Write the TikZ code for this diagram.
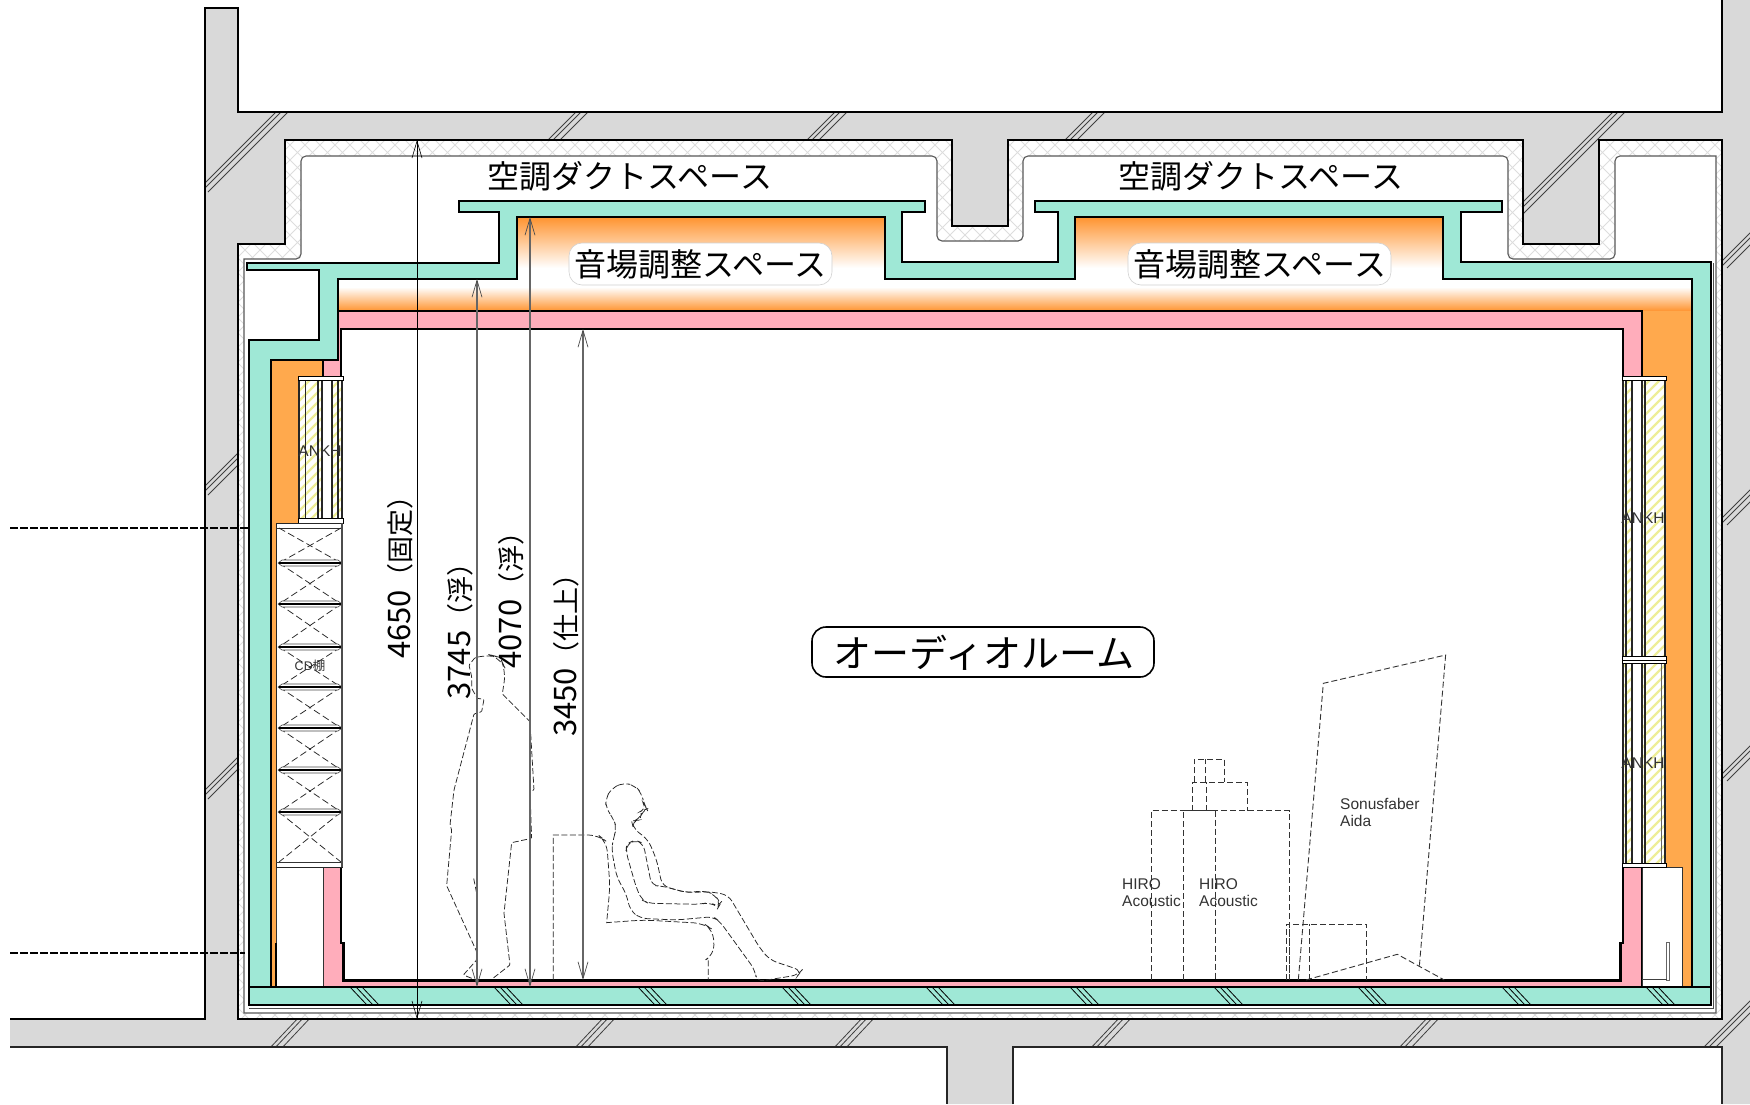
\documentclass[tikz,border=0pt]{standalone}
\usepackage{fontspec}
\usetikzlibrary{arrows.meta}
\setmainfont{Noto Sans CJK JP}
\newfontfamily\latinf{Liberation Sans}
\definecolor{conc}{HTML}{D9D9D9}
\definecolor{tealw}{HTML}{9FE8D6}
\definecolor{pinkw}{HTML}{FFADBB}
\definecolor{orw}{HTML}{FFA94D}
\definecolor{ore}{HTML}{FF9430}
\definecolor{yelw}{HTML}{EEEE98}
\definecolor{hatchg}{HTML}{DDDDDD}
\definecolor{dimg}{HTML}{666666}
\newcommand{\concbreak}[4]{\foreach \d in {0,5,12}{\draw[breakline] (#1+\d,#2) -- (#3+\d,#4);}}
\newcommand{\floorbreak}[1]{\foreach \d in {0,6,12}{\draw[breakline,black] (#1+\d,987) -- (#1+\d+17,1005);}}
\newcommand{\shelfbar}[1]{\draw[black!70,line width=.6pt,fill=white] (278,#1) -- (282,#1-3) -- (338,#1-3) -- (342,#1) -- (338,#1+3) -- (282,#1+3) -- cycle;
  \draw[black,line width=1.6pt] (279,#1) -- (341,#1);}
\newcommand{\shelfcross}[2]{\draw[thindash] (279,#1) -- (341,#2); \draw[thindash] (341,#1) -- (279,#2);}
\tikzset{
  breakline/.style={black!75,line width=.8pt},
  wall/.style={draw=black,line width=2pt,line join=miter},
  thindash/.style={draw=black!85,line width=.75pt,dash pattern=on 7pt off 3.5pt},
  figline/.style={draw=black!85,line width=.75pt,dash pattern=on 6pt off 2.5pt,rounded corners=4pt},
  equip/.style={draw=black!80,line width=.9pt,dash pattern=on 6pt off 3pt},
  blackdim/.style={draw=black,line width=.9pt,{Straight Barb[length=17pt,width=10pt,line width=.6pt]}-{Straight Barb[length=17pt,width=10pt,line width=.6pt]}},
  graydim/.style={draw=dimg,line width=1.2pt,{Straight Barb[length=17pt,width=10pt,line width=.7pt,black!70]}-{Straight Barb[length=17pt,width=10pt,line width=.7pt,black!70]}},
  dimtxt/.style={rotate=90,inner sep=0pt,text=black},
  bigtxt/.style={inner sep=0pt,text=black,font=\fontsize{32}{32}\selectfont},
  pill/.style={fill=white,draw=black!18,line width=.6pt,rounded corners=13pt},
  smalltxt/.style={inner sep=0pt,text=black!80,align=left,font=\latinf\fontsize{15.5}{17}\selectfont},
  ankhtxt/.style={inner sep=0pt,text=black!80,font=\latinf\fontsize{15.5}{17}\selectfont},
}
\newcommand{\dimlabel}[2]{{\fontsize{31}{31}\selectfont #1}{\fontsize{27}{27}\selectfont #2}}
\begin{document}
\begin{tikzpicture}[x=1pt,y=-1pt]
\useasboundingbox (0,0) rectangle (1750,1104);
\fill[white] (0,0) rectangle (1750,1104);
% concrete
\path[fill=conc] (205,8) -- (238,8) -- (238,112) -- (1722,112) -- (1722,0) -- (1750,0) -- (1750,1104) -- (1722,1104) -- (1722,1047) -- (1013,1047) -- (1013,1104) -- (947,1104) -- (947,1047) -- (10,1047) -- (10,1019) -- (205,1019) -- cycle;
\begin{scope}
\clip (205,8) -- (238,8) -- (238,112) -- (1722,112) -- (1722,0) -- (1750,0) -- (1750,1104) -- (1722,1104) -- (1722,1047) -- (1013,1047) -- (1013,1104) -- (947,1104) -- (947,1047) -- (10,1047) -- (10,1019) -- (205,1019) -- cycle;
\concbreak{196}{192}{284}{104}
\concbreak{196}{495}{244}{447}
\concbreak{196}{799}{244}{751}
\concbreak{540}{148}{584}{104}
\concbreak{799}{148}{843}{104}
\concbreak{1057}{148}{1101}{104}
\concbreak{1510}{215}{1621}{104}
\concbreak{1715}{525}{1755}{485}
\concbreak{1715}{781}{1755}{741}
\concbreak{1715}{268}{1755}{228}
\foreach \x in {271,576,835,1092,1400}{\concbreak{\x-3}{1050}{\x+29}{1016}}
\concbreak{1700}{1051}{1760}{991}
\end{scope}
\draw[black,line width=2pt] (10,1019) -- (205,1019) -- (205,8) -- (238,8) -- (238,112) -- (1722,112) -- (1722,0);
\draw[black!85,line width=1.6pt] (10,1047) -- (947,1047) -- (947,1104);
\draw[black!85,line width=1.6pt] (1013,1104) -- (1013,1047) -- (1722,1047) -- (1722,1104);
% cavity with insulation hatch
\fill[white] (238,244) -- (285,244) -- (285,140) -- (952,140) -- (952,226) -- (1008,226) -- (1008,140) -- (1523,140) -- (1523,244) -- (1599,244) -- (1599,140) -- (1722,140) -- (1722,1019) -- (238,1019) -- cycle;
\begin{scope}
\clip (238,244) -- (285,244) -- (285,140) -- (952,140) -- (952,226) -- (1008,226) -- (1008,140) -- (1523,140) -- (1523,244) -- (1599,244) -- (1599,140) -- (1722,140) -- (1722,1019) -- (238,1019) -- cycle;
\foreach \c in {240,255,...,2900}{\draw[hatchg,line width=.8pt] (\c,0) -- (\c-1104,1104);}
\foreach \c in {-860,-845,...,1720}{\draw[hatchg,line width=.8pt] (\c,0) -- (\c+1104,1104);}
\end{scope}
\draw[black,line width=2pt] (238,244) -- (285,244) -- (285,140) -- (952,140) -- (952,226) -- (1008,226) -- (1008,140) -- (1523,140) -- (1523,244) -- (1599,244) -- (1599,140) -- (1722,140) -- (1722,1019) -- (238,1019) -- cycle;
\draw[fill=white,draw=black!65,line width=1.1pt,sharp corners] (244,259) -- (244,1013) -- (1716,1013) -- (1716,156) [rounded corners=5pt] -- (1615,156) -- (1615,259) -- (1508,259) -- (1508,156) -- (1023,156) -- (1023,241) -- (937,241) -- (937,156) -- (301,156) -- (301,259) [sharp corners] -- (244,259) -- cycle;
% extra thin line
\draw[black!70,line width=.9pt] (249,1008) -- (1713,1008) -- (1713,263);
% teal shell
\path[wall,fill=tealw] (247,263) -- (499,263) -- (499,212) -- (459,212) -- (459,201) -- (925,201) -- (925,212) -- (902,212) -- (902,262) -- (1058,262) -- (1058,212) -- (1035,212) -- (1035,201) -- (1502,201) -- (1502,212) -- (1461,212) -- (1461,262) -- (1711,262) -- (1711,1005) -- (249,1005) -- (249,340) -- (319,340) -- (319,270) -- (247,270) -- cycle;
\foreach \x in {350,494,638,782,926,1070,1214,1358,1502,1646}{\floorbreak{\x}}
% interior
\path[fill=white] (338,279) -- (517,279) -- (517,217) -- (885,217) -- (885,279) -- (1075,279) -- (1075,217) -- (1443,217) -- (1443,279) -- (1692,279) -- (1692,987) -- (271,987) -- (271,360) -- (338,360) -- cycle;
\shade[top color=ore,bottom color=white] (517,217) rectangle (885,268);
\shade[top color=ore,bottom color=white] (1075,217) rectangle (1443,268);
\shade[top color=white,bottom color=ore] (338,287) rectangle (1692,311);
\fill[orw] (1642,311) rectangle (1692,987);
\fill[orw] (271,360) rectangle (323,987);
\draw[black,line width=2pt] (338,360) -- (338,279) -- (517,279) -- (517,217) -- (885,217) -- (885,279) -- (1075,279) -- (1075,217) -- (1443,217) -- (1443,279) -- (1692,279) -- (1692,987) -- (271,987) -- (271,360) -- cycle;
% pink finish
\path[fill=pinkw,draw=black,line width=1.4pt] (338,311) -- (1642,311) -- (1642,987) -- (323,987) -- (323,360) -- (338,360) -- cycle;
% low-left and low-right voids
\path[fill=white,draw=black!80,line width=1pt] (276,867) rectangle (323,987);
\path[fill=white,draw=black!80,line width=1pt] (1642,867) rectangle (1682,987);
\draw[black,line width=2pt] (276,943) -- (276,987);
\draw[black!60,line width=.8pt,fill=white] (1666.5,942) rectangle (1669.5,980);
\draw[black!75,line width=1pt] (1642,979) -- (1667,979);
\draw[black,line width=2pt] (249,987) -- (1711,987);
% room
\path[fill=white,draw=black,line width=2.4pt] (341,329) -- (1623,329) -- (1623,943) -- (1620.5,943) -- (1620.5,980.5) -- (343.5,980.5) -- (343.5,943) -- (341,943) -- cycle;
% left ANKH
\begin{scope}
\clip (299,380) rectangle (342,518);
\fill[white] (299,380) rectangle (342,518);
\foreach \c in {670,680,...,890}{\draw[yelw,line width=2.4pt] (290,\c-290) -- (350,\c-350);}
\end{scope}
\fill[white] (322,380) rectangle (332,518);
\foreach \x/\w in {299/1.4,305/1,318/1.4,322/1.4,332/1.4,338/1.4,342/1.4}{\draw[black!85,line width=\w pt] (\x,380) -- (\x,518);}
\draw[black,line width=1pt,fill=white] (298,376) rectangle (343,380);
\draw[black,line width=1pt,fill=white] (298,518) rectangle (343,523);
% CD rack
\path[fill=white,draw=black!85,line width=1pt] (276,523) rectangle (342,867);
\draw[black!80,line width=1pt] (276,528) -- (342,528);
\draw[black!80,line width=1pt] (276,862) -- (342,862);
\shelfcross{528}{563}
\shelfcross{563}{604}
\shelfcross{604}{647}
\shelfcross{647}{687}
\shelfcross{687}{728}
\shelfcross{728}{770}
\shelfcross{770}{812}
\shelfcross{812}{862}
\foreach \y in {563,604,647,687,728,770,812}{\shelfbar{\y}}
\draw[black!70,line width=1.4pt] (342,523) -- (342,867);
% right ANKH
\begin{scope}
\clip (1623,380) rectangle (1666,866);
\fill[white] (1623,380) rectangle (1666,866);
\foreach \c in {1990,2000,...,2560}{\draw[yelw,line width=2.4pt] (1600,\c-1600) -- (1680,\c-1680);}
\end{scope}
\fill[white] (1632.5,380) rectangle (1641.5,866);
\foreach \x in {1623,1626,1632,1642,1645,1665}{\draw[black!85,line width=1.4pt] (\x,380) -- (\x,866);}
\draw[black!60,line width=1pt] (1661,663) -- (1661,866);
\draw[black,line width=1pt,fill=white] (1622,376) rectangle (1666,380);
\draw[black,line width=1pt,fill=white] (1622,656) rectangle (1666,660);
\draw[black,line width=1pt,fill=white] (1622,660) rectangle (1666,663);
\draw[black,line width=1pt,fill=white] (1622,863) rectangle (1666,867);
% side dashes
\coordinate (dashA) at (10,528);
\coordinate (dashAe) at (249,528);
\coordinate (dashB) at (10,953);
\coordinate (dashBe) at (245,953);
\draw[black,line width=1.2pt,dash pattern=on 8pt off 2pt] (dashA) -- (dashAe);
\draw[black,line width=1.2pt,dash pattern=on 8pt off 2pt] (dashB) -- (dashBe);
% standing figure
\begin{scope}[shift={(400,620)},x=.3333pt,y=-.3333pt]
\draw[figline,rounded corners=1pt] (215,1075) -- (190,1065) -- (230,1020) -- (230,995) -- (140,797) -- (155,630) -- (150,615) -- (162,510) -- (222,282) -- (245,275) -- (252,238) -- (232,235) -- (215,205) -- (215,170) -- (207,135) -- (225,113) [rounded corners=12pt] -- (265,103) -- (300,112) -- (318,150) [rounded corners=1pt] -- (307,222) -- (390,305) -- (402,510) -- (390,515) -- (395,655) -- (335,668) -- (312,880) -- (330,1035) -- (275,1078);
\draw[figline,rounded corners=0pt] (232,740) -- (232,830) -- (220,770);
% seated figure
\draw[figline,rounded corners=7pt] (640,655) -- (650,625) -- (640,595) -- (618,565) -- (617,535) -- (635,505) -- (670,488) -- (705,497) -- (725,520) -- (733,555) -- (740,567) -- (725,573) -- (720,600) -- (695,603) -- (700,625) -- (745,660) -- (770,720) -- (787,798) -- (860,818) -- (930,815) -- (985,825) -- (1080,985) -- (1110,1020) -- (1205,1052) -- (1195,1065) -- (1070,1085) -- (1065,1050) -- (960,905) -- (940,890) -- (830,900) -- (720,895) -- (690,870) -- (680,825) -- (650,770) -- (635,690) -- cycle;
\draw[figline,rounded corners=7pt] (755,797) -- (730,670) -- (705,660) -- (680,672) -- (678,695) -- (708,800) -- (725,840) -- (745,850) -- (900,853) -- (930,847) -- (955,862) -- (962,850) -- (945,825) -- (915,812) -- (860,818) -- (787,798) -- cycle;
% chair
\draw[figline,rounded corners=10pt] (460,1080) [sharp corners] -- (460,645) [rounded corners=10pt] -- (595,645) -- (620,665) -- (630,800) [sharp corners] -- (620,908) [rounded corners=10pt] -- (730,900) -- (910,910) -- (940,930) -- (943,1005) [sharp corners] -- (925,1015) -- (925,1080);
\end{scope}
% equipment
\begin{scope}[shift={(1100,640)},x=.3333pt,y=-.3333pt]
\draw[equip] (153,1020) -- (153,512) -- (347,512) -- (347,1020);
\draw[equip] (250,1020) -- (250,512) -- (568,512) -- (568,1020);
\draw[equip] (278,512) -- (278,427) -- (442,427) -- (442,512);
\draw[equip] (318,512) -- (318,427);
\draw[equip] (282,427) -- (282,358) -- (374,358) -- (374,427);
\draw[equip] (315,427) -- (315,358);
\draw[equip] (558,1020) -- (558,852) -- (800,852) -- (800,1020);
\draw[equip] (628,1020) -- (628,852);
\draw[equip] (568,1020) -- (568,852);
\draw[equip] (595,1020) -- (670,130) -- (1037,45) -- (958,980);
\draw[equip] (618,1020) -- (892,943) -- (1033,1020);
\end{scope}
% dimensions
\coordinate (d1a) at (417,140);
\coordinate (d1b) at (417,1019);
\coordinate (d2a) at (477,279);
\coordinate (d2b) at (477,987);
\coordinate (d3a) at (530,217);
\coordinate (d3b) at (530,987);
\coordinate (d4a) at (583,329);
\coordinate (d4b) at (583,980);
\draw[blackdim] (d1a) -- (d1b);
\draw[graydim] (d2a) -- (d2b);
\draw[graydim] (d3a) -- (d3b);
\draw[graydim] (d4a) -- (d4b);
\node[dimtxt] (t4650) at (400,570.5) {\dimlabel{4650}{（固定）}};
\node[dimtxt] (t3745) at (460,624.5) {\dimlabel{3745}{（浮）}};
\node[dimtxt] (t4070) at (511,593.5) {\dimlabel{4070}{（浮）}};
\node[dimtxt] (t3450) at (566,648.5) {\dimlabel{3450}{（仕上）}};
% labels
\node[bigtxt] (duct1) at (630,176) {空調ダクトスペース};
\node[bigtxt] (duct2) at (1261,176) {空調ダクトスペース};
\path[pill] (569,243) rectangle (832,285);
\path[pill] (1128,243) rectangle (1391,285);
\node[bigtxt] (snd1) at (700.5,264) {音場調整スペース};
\node[bigtxt] (snd2) at (1260,264) {音場調整スペース};
\path[draw=black,line width=1.6pt,fill=white,rounded corners=14pt] (812,627) rectangle (1154,677);
\node[inner sep=0pt,font=\fontsize{38}{38}\selectfont] (room) at (984,653) {オーディオルーム};
\node[ankhtxt] (ankh1) at (320,451) {ANKH};
\node[ankhtxt] (ankh2) at (1643,518) {ANKH};
\node[ankhtxt] (ankh3) at (1643,763) {ANKH};
\node[inner sep=0pt,text=black!80,font=\fontsize{12.5}{13}\selectfont] (cd) at (310,666) {{\latinf CD}棚};
\node[smalltxt,anchor=north west] (hiro1) at (1122,878) {HIRO\\Acoustic};
\node[smalltxt,anchor=north west] (hiro2) at (1199,878) {HIRO\\Acoustic};
\node[smalltxt,anchor=north west] (aida) at (1340,798) {Sonusfaber\\Aida};
\end{tikzpicture}
\end{document}
